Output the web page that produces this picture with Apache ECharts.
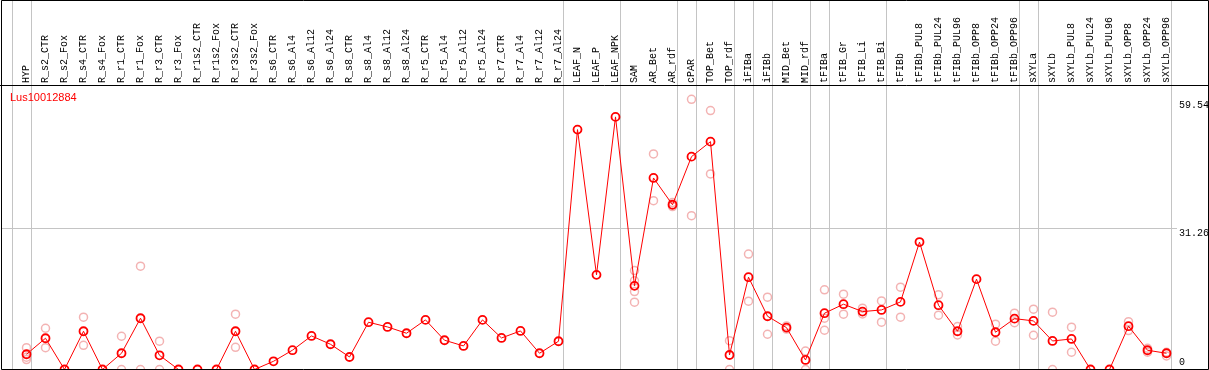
<!DOCTYPE html>
<html>
<head>
<meta charset="utf-8">
<script src="https://cdn.jsdelivr.net/npm/echarts@6/dist/echarts.min.js"></script>
<style>
html,body{margin:0;padding:0;background:#fff;}
#c{width:1209px;height:370px;}
</style>
</head>
<body>
<div id="c"></div>
<script>
const geneName = 'Lus10012884';

const categories = [
  'HYP','R_s2_CTR','R_s2_Fox','R_s4_CTR','R_s4_Fox','R_r1_CTR','R_r1_Fox','R_r3_CTR','R_r3_Fox',
  'R_r1s2_CTR','R_r1s2_Fox','R_r3s2_CTR','R_r3s2_Fox','R_s6_CTR','R_s6_Al4','R_s6_Al12','R_s6_Al24',
  'R_s8_CTR','R_s8_Al4','R_s8_Al12','R_s8_Al24','R_r5_CTR','R_r5_Al4','R_r5_Al12','R_r5_Al24',
  'R_r7_CTR','R_r7_Al4','R_r7_Al12','R_r7_Al24','LEAF_N','LEAF_P','LEAF_NPK','SAM','AR_Bet','AR_rdf',
  'cPAR','TOP_Bet','TOP_rdf','iFIBa','iFIBb','MID_Bet','MID_rdf','tFIBa','tFIB_Gr','tFIB_Li','tFIB_Bi',
  'tFIBb','tFIBb_PUL8','tFIBb_PUL24','tFIBb_PUL96','tFIBb_OPP8','tFIBb_OPP24','tFIBb_OPP96',
  'sXYLa','sXYLb','sXYLb_PUL8','sXYLb_PUL24','sXYLb_PUL96','sXYLb_OPP8','sXYLb_OPP24','sXYLb_OPP96'
];

const meanValues = [
  3.36, 6.89, 0, 8.43, 0, 3.58, 11.3, 3.13, 0,
  0, 0, 8.43, 0, 1.81, 4.26, 7.40, 5.56,
  2.76, 10.42, 9.38, 7.99, 10.93, 6.45, 5.19, 10.93,
  6.95, 8.50, 3.58, 6.23, 52.87, 20.86, 55.67, 18.43, 42.21, 36.31,
  46.91, 50.22, 3.20, 20.35, 11.74, 9.23, 2.10, 12.41, 14.39, 12.76, 13.13,
  14.90, 28.08, 14.17, 8.43, 19.91, 8.21, 11.21,
  10.71, 6.29, 6.73, 0, 0, 9.54, 4.24, 3.58
];

const replicateValues = [
  [4.8, 2.7, 2.2], [9.09, 4.81], [], [11.52, 5.34], [], [7.33, 0], [22.78, 0], [6.23, 0], [],
  [], [], [12.19, 4.90], [], [], [], [], [],
  [], [], [], [], [], [], [], [],
  [], [], [], [], [], [], [], [21.81, 19.54, 17.17, 14.83], [47.5, 37.2], [36.8, 35.9],
  [59.54, 33.89], [57.06, 43.09], [6.36, 0], [25.43, 15.06], [15.94, 7.77], [9.6, 8.9], [4.08, 0],
  [17.55, 11.3, 8.65], [16.6, 12.19], [13.51, 12.25], [15.12, 10.42],
  [18.15, 11.52], [], [16.45, 11.96], [9.45, 7.62], [], [9.98, 6.23], [12.41, 10.33],
  [13.29, 7.55], [12.63, 0], [9.32, 3.80], [], [], [10.55, 8.57], [4.68, 3.80], [3.80, 2.98]
];

const yTickValues = [0, 31.26, 59.54];
const yTickLabels = ['0', '31.26', '59.54'];
const gridLineValues = [31.26];
const separatorAfter = [-1, 0, 28, 31, 34, 35, 37, 38, 39, 41, 42, 45, 52, 53, 60];
const yMax = 62.7;

const replicatePoints = [];
replicateValues.forEach((reps, i) => reps.forEach(v => replicatePoints.push([i, v])));

const chart = echarts.init(document.getElementById('c'), null, {renderer: 'canvas'});

const W = 1209, H = 370;
const monoFont = '"Liberation Mono", "DejaVu Sans Mono", monospace';

chart.setOption({
  animation: false,
  backgroundColor: '#ffffff',
  grid: {left: 17, right: 33, top: 85, bottom: 0.5, containLabel: false},
  xAxis: {
    type: 'category',
    position: 'top',
    data: categories,
    boundaryGap: true,
    axisLine: {show: false},
    axisTick: {show: false},
    splitLine: {show: false},
    axisLabel: {
      interval: 0,
      rotate: 90,
      margin: 2,
      color: '#000',
      fontSize: 10,
      fontFamily: monoFont
    }
  },
  yAxis: {
    type: 'value',
    min: 0,
    max: yMax,
    show: false
  },
  series: [
    {
      type: 'scatter',
      data: replicatePoints,
      symbol: 'circle',
      symbolSize: 8,
      z: 3,
      itemStyle: {color: 'rgba(0,0,0,0)', borderColor: '#f0a0a0', borderWidth: 1.5},
      clip: false
    },
    {
      type: 'line',
      data: meanValues,
      symbol: 'circle',
      symbolSize: 8,
      showAllSymbol: true,
      z: 5,
      clip: false,
      lineStyle: {color: '#ff0000', width: 1},
      itemStyle: {color: 'rgba(0,0,0,0)', borderColor: '#ff0000', borderWidth: 1.8}
    }
  ]
});

// Decorations computed through the chart's scales
const x0 = chart.convertToPixel({gridIndex: 0}, [0, 0])[0];
const x1 = chart.convertToPixel({gridIndex: 0}, [1, 0])[0];
const step = x1 - x0;
const yOf = v => chart.convertToPixel({gridIndex: 0}, [0, v])[1];

const graphics = [];
separatorAfter.forEach(i => {
  const x = Math.round(x0 + i * step + 4) + 0.5;
  graphics.push({type: 'line', z: 1, silent: true,
    shape: {x1: x, y1: 0, x2: x, y2: 369},
    style: {stroke: '#c4c4c4', lineWidth: 1}});
});
gridLineValues.forEach(v => {
  const y = Math.round(yOf(v)) + 0.5;
  graphics.push({type: 'line', z: 1, silent: true,
    shape: {x1: 1, y1: y, x2: 1177, y2: y},
    style: {stroke: '#c4c4c4', lineWidth: 1}});
});
// frame and header separator
graphics.push({type: 'rect', z: 20, silent: true,
  shape: {x: 1.5, y: 0.5, width: 1207, height: 369},
  style: {fill: 'none', stroke: '#000', lineWidth: 1}});
graphics.push({type: 'line', z: 20, silent: true,
  shape: {x1: 0, y1: 85.5, x2: W, y2: 85.5},
  style: {stroke: '#000', lineWidth: 1}});
// y tick labels
yTickValues.forEach((v, k) => {
  const y = yOf(v);
  graphics.push({type: 'text', z: 20, silent: true,
    style: {text: yTickLabels[k], x: 1179, y: v === 0 ? y - 7 : y + 6,
      fill: '#000', font: '10px ' + monoFont, textAlign: 'left', textVerticalAlign: 'middle'}});
});
// gene name
graphics.push({type: 'text', z: 20, silent: true,
  style: {text: geneName, x: 10, y: 97.5, fill: '#ff0000',
    font: '11px "Liberation Sans", Arial, sans-serif', textAlign: 'left', textVerticalAlign: 'middle'}});

chart.setOption({graphic: {elements: graphics}});
</script>
</body>
</html>
